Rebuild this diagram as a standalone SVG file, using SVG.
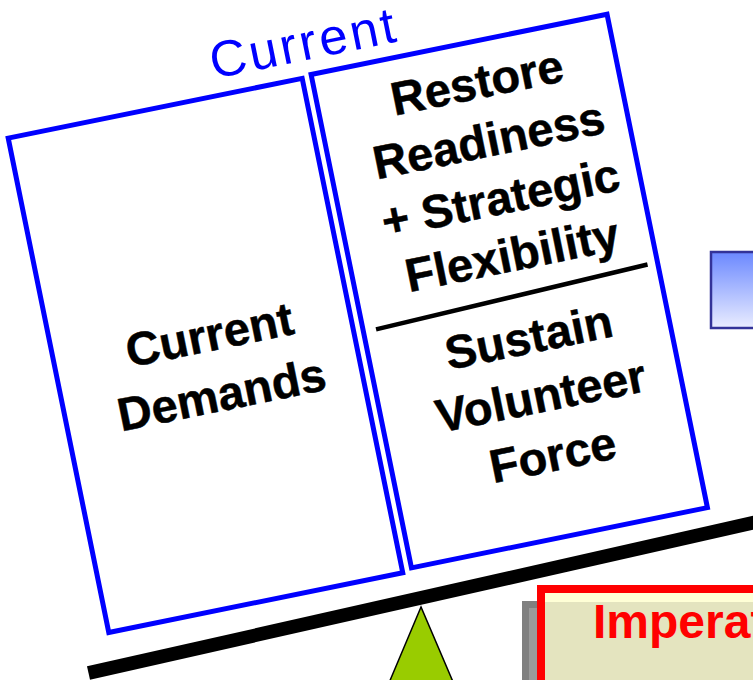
<svg xmlns="http://www.w3.org/2000/svg" width="753" height="680" viewBox="0 0 753 680">
<defs>
<linearGradient id="blueGrad" x1="0" y1="0" x2="0" y2="1">
<stop offset="0" stop-color="#6b88ff"/>
<stop offset="1" stop-color="#eaedff"/>
</linearGradient>
<style>
.box{fill:#ffffff;stroke:#0000ff;stroke-width:5}
.lbl{font-family:"Liberation Sans",Arial,sans-serif;font-weight:bold;font-size:47px;fill:#000000;stroke:#000000;stroke-width:0.5px;text-anchor:middle}
.cur{font-family:"Liberation Sans",Arial,sans-serif;font-size:51px;fill:#0000ff;text-anchor:middle;letter-spacing:3px}
</style>
</defs>
<rect width="753" height="680" fill="#ffffff"/>

<g id="blue-box">
<rect x="711" y="252" width="80" height="76" fill="url(#blueGrad)" stroke="#333399" stroke-width="2.5"/>
</g>

<g id="imperatives">
<rect x="522" y="601" width="260" height="100" fill="#808080"/>
<rect x="529" y="608" width="253" height="93" fill="#9a9a9a"/>
<rect x="541" y="589" width="240" height="110" fill="#e4e4bf" stroke="#ff0000" stroke-width="8"/>
<rect x="545" y="593" width="232" height="9" fill="#ffffd6"/>
<text x="593" y="638" font-family="'Liberation Sans',Arial,sans-serif" font-weight="bold" font-size="48" fill="#ff0000">Imperat</text>
</g>

<g id="connectors">
<line x1="88.5" y1="673" x2="770" y2="519" stroke="#000000" stroke-width="13.7"/>
</g>

<g id="fulcrum">
<polygon points="421,607 386,690 456.5,690" fill="#99cc00" stroke="#000000" stroke-width="1.5" stroke-linejoin="miter"/>
</g>

<g id="left-box" transform="rotate(-11.5)">
<rect class="box" x="-19.5" y="137" width="300" height="504.5"/>
<text class="lbl" x="138.5" y="386">Current</text>
<text class="lbl" x="138.5" y="447">Demands</text>
</g>

<g id="right-box" transform="rotate(-11.5)">
<rect class="box" x="290" y="135" width="302" height="503.5"/>
<text class="cur" x="289" y="120">Current</text>
<text class="lbl" x="451" y="192">Restore</text>
<text class="lbl" x="451" y="251">Readiness</text>
<text class="lbl" x="451" y="310">+ Strategic</text>
<text class="lbl" x="451" y="368">Flexibility</text>
<line x1="302.8" y1="397.7" x2="581.8" y2="388.3" stroke="#000000" stroke-width="4.5"/>
<text class="lbl" x="451" y="452">Sustain</text>
<text class="lbl" x="451" y="512">Volunteer</text>
<text class="lbl" x="451" y="572">Force</text>
</g>
</svg>
